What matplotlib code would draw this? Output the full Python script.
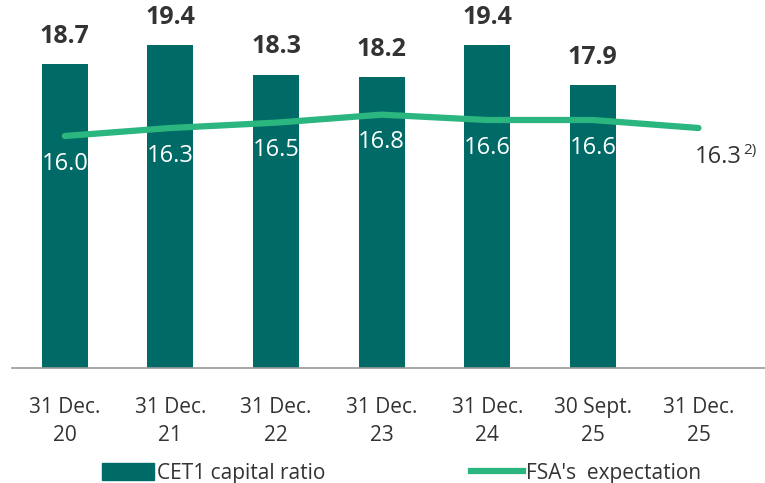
import numpy as np
import matplotlib.pyplot as plt
from matplotlib.lines import Line2D
from matplotlib.patches import Patch

plt.rcParams['font.family'] = ['Open Sans', 'DejaVu Sans']

categories = ["31 Dec.\n20", "31 Dec.\n21", "31 Dec.\n22", "31 Dec.\n23",
              "31 Dec.\n24", "30 Sept.\n25", "31 Dec.\n25"]
cet1 = [18.7, 19.4, 18.3, 18.2, 19.4, 17.9]
fsa = [16.0, 16.3, 16.5, 16.8, 16.6, 16.6, 16.3]

bar_color = "#006B66"
line_color = "#2BB57F"
text_color = "#333333"

fig = plt.figure(figsize=(7.65, 4.83), dpi=100)
ax = fig.add_axes([12 / 765, 1 - 368 / 483, 753 / 765, 368 / 483])

x = np.arange(len(categories))
ax.bar(x[:len(cet1)], cet1, width=0.435, color=bar_color, zorder=2)
ax.plot(x, fsa, color=line_color, lw=4.5, solid_capstyle="round", zorder=3)

for xi, v in zip(x, cet1):
    ax.annotate(f"{v:.1f}", (xi, v), xytext=(0, 20), textcoords="offset points",
                ha="center", va="center", fontsize=18, fontweight="bold", color=text_color)

for xi, v in zip(x[:len(cet1)], fsa[:len(cet1)]):
    ax.annotate(f"{v:.1f}", (xi, v), xytext=(0, -20), textcoords="offset points",
                ha="center", va="center", fontsize=17, color="white", zorder=4)
# last point sits outside the bars, with footnote marker
ax.annotate(f"{fsa[-1]:.1f}", (x[-1], fsa[-1]), xytext=(14, -21), textcoords="offset points",
            ha="center", va="center", fontsize=17, color=text_color)
ax.annotate("2)", (x[-1], fsa[-1]), xytext=(37, -16), textcoords="offset points",
            ha="center", va="center", fontsize=11, color=text_color)

ax.set_xlim(-0.5, 6.63)
ax.set_ylim(7.3, 21.1)
ax.set_yticks([])
ax.set_xticks(x)
ax.set_xticklabels(categories, fontsize=15, color=text_color, linespacing=1.45)
ax.tick_params(axis="x", length=0, pad=21)
for s in ["top", "right", "left"]:
    ax.spines[s].set_visible(False)
ax.spines["bottom"].set_color("#9a9a9a")
ax.spines["bottom"].set_linewidth(1.2)

handles = [Patch(color=bar_color), Line2D([0], [0], color=line_color, lw=4.5)]
fig.legend(handles, ["CET1 capital ratio", "FSA's  expectation"], loc="lower center",
           bbox_to_anchor=(0.525, -0.04), ncol=2, frameon=False, fontsize=15,
           handlelength=2.5, handleheight=0.9, handletextpad=0.15, columnspacing=7.0,
           labelcolor=text_color)

fig.savefig("out.png", dpi=100)
